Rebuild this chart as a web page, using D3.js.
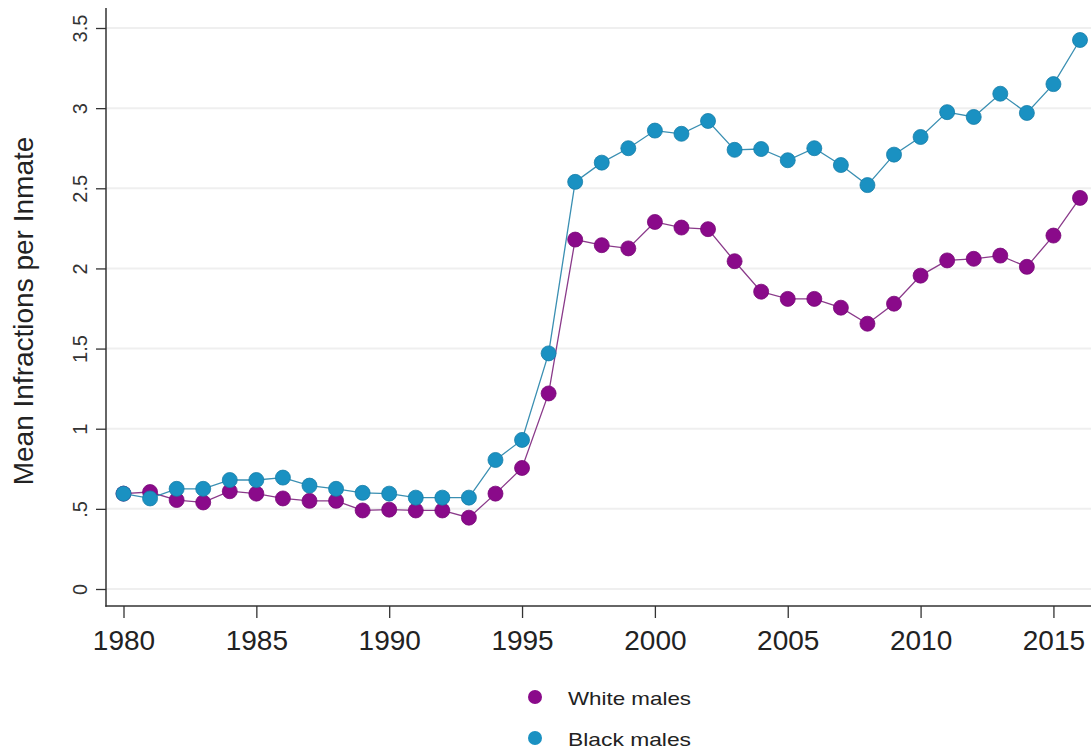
<!DOCTYPE html>
<html>
<head>
<meta charset="utf-8">
<script src="https://cdn.jsdelivr.net/npm/d3@7"></script>
<style>
  html, body { margin: 0; padding: 0; background: #ffffff; }
  svg { display: block; font-family: "Liberation Sans", Arial, sans-serif; }
</style>
</head>
<body>
<svg id="chart" width="1091" height="753"></svg>
<script>
// Mean infractions per inmate, by year
const years = d3.range(1980, 2017);
const whiteMales = [
  0.595, 0.605, 0.555, 0.54, 0.61, 0.595, 0.565, 0.55, 0.55, 0.49,
  0.495, 0.49, 0.49, 0.445, 0.595, 0.755, 1.22, 2.18, 2.145, 2.125,
  2.29, 2.255, 2.245, 2.045, 1.855, 1.81, 1.81, 1.755, 1.655, 1.78,
  1.955, 2.05, 2.06, 2.08, 2.01, 2.205, 2.44
];
const blackMales = [
  0.595, 0.565, 0.625, 0.625, 0.68, 0.68, 0.695, 0.645, 0.625, 0.60,
  0.595, 0.57, 0.57, 0.57, 0.805, 0.93, 1.47, 2.54, 2.66, 2.75,
  2.86, 2.84, 2.92, 2.74, 2.745, 2.675, 2.75, 2.645, 2.52, 2.71,
  2.82, 2.975, 2.945, 3.09, 2.97, 3.15, 3.425
];
const yTicks = [0, 0.5, 1, 1.5, 2, 2.5, 3, 3.5];
const yTickLabels = ["0", ".5", "1", "1.5", "2", "2.5", "3", "3.5"];
const xTicks = [1980, 1985, 1990, 1995, 2000, 2005, 2010, 2015];
const seriesNames = ["White males", "Black males"];
const seriesColors = ["#8a0a8a", "#1a91c2"];
const lineColors = ["#8a3a8a", "#3a8fb2"];

const svg = d3.select("#chart");
const W = 1091;

const axisX = 106, axisY = 606, axisTop = 8;
const x = d3.scaleLinear().domain([1980, 2016]).range([123.5, 1080]);
const y = d3.scaleLinear().domain([0, 3.5]).range([589, 28]);

// horizontal gridlines
svg.append("g").selectAll("line").data(yTicks).join("line")
  .attr("x1", axisX).attr("x2", W)
  .attr("y1", d => y(d)).attr("y2", d => y(d))
  .attr("stroke", "#efefef").attr("stroke-width", 2);

// y axis
const yAxis = d3.axisLeft(y).tickValues(yTicks)
  .tickFormat((d, i) => yTickLabels[i]).tickSize(10).tickSizeOuter(0);
const gy = svg.append("g").attr("transform", `translate(${axisX},0)`).call(yAxis);
gy.select(".domain").remove();
gy.selectAll(".tick line").attr("stroke", "#333").attr("stroke-width", 1.3);
gy.selectAll(".tick text")
  .attr("x", null).attr("dy", null)
  .attr("transform", "translate(-19,0) rotate(-90)")
  .attr("text-anchor", "middle")
  .attr("fill", "#333").attr("font-size", 20);
svg.append("line").attr("x1", axisX).attr("x2", axisX)
  .attr("y1", axisTop).attr("y2", axisY + 0.7)
  .attr("stroke", "#333").attr("stroke-width", 1.5);

// x axis
const xAxis = d3.axisBottom(x).tickValues(xTicks)
  .tickFormat(d3.format("d")).tickSize(12).tickSizeOuter(0);
const gx = svg.append("g").attr("transform", `translate(0,${axisY})`).call(xAxis);
gx.select(".domain").remove();
gx.selectAll(".tick line").attr("stroke", "#333").attr("stroke-width", 1.3);
gx.selectAll(".tick text").attr("y", 44).attr("dy", null)
  .attr("fill", "#222").attr("font-size", 28);
svg.append("line").attr("x1", axisX - 0.7).attr("x2", W)
  .attr("y1", axisY).attr("y2", axisY)
  .attr("stroke", "#333").attr("stroke-width", 1.5);

// y axis title
svg.append("text")
  .attr("transform", `translate(33,311) rotate(-90)`)
  .attr("text-anchor", "middle")
  .attr("fill", "#222").attr("font-size", 28)
  .text("Mean Infractions per Inmate");

// series lines and markers
const allSeries = [whiteMales, blackMales];
const line = d3.line().x((d, i) => x(years[i])).y(d => y(d));
allSeries.forEach((vals, s) => {
  const g = svg.append("g");
  g.append("path").datum(vals)
    .attr("d", line).attr("fill", "none")
    .attr("stroke", lineColors[s]).attr("stroke-width", 1.3);
  g.selectAll("circle").data(vals).join("circle")
    .attr("cx", (d, i) => x(years[i])).attr("cy", d => y(d))
    .attr("r", 7.5)
    .attr("fill", seriesColors[s])
    .attr("stroke", d3.color(seriesColors[s]).darker(0.4)).attr("stroke-width", 0.8);
});

// legend
const legend = svg.append("g");
seriesNames.forEach((name, s) => {
  const cy = 697 + s * 41;
  legend.append("circle").attr("cx", 535).attr("cy", cy).attr("r", 7)
    .attr("fill", seriesColors[s]);
  legend.append("text").attr("x", 568).attr("y", cy + 8)
    .attr("font-size", 19).attr("fill", "#222")
    .attr("textLength", 123).attr("lengthAdjust", "spacingAndGlyphs")
    .text(name);
});
</script>
</body>
</html>
